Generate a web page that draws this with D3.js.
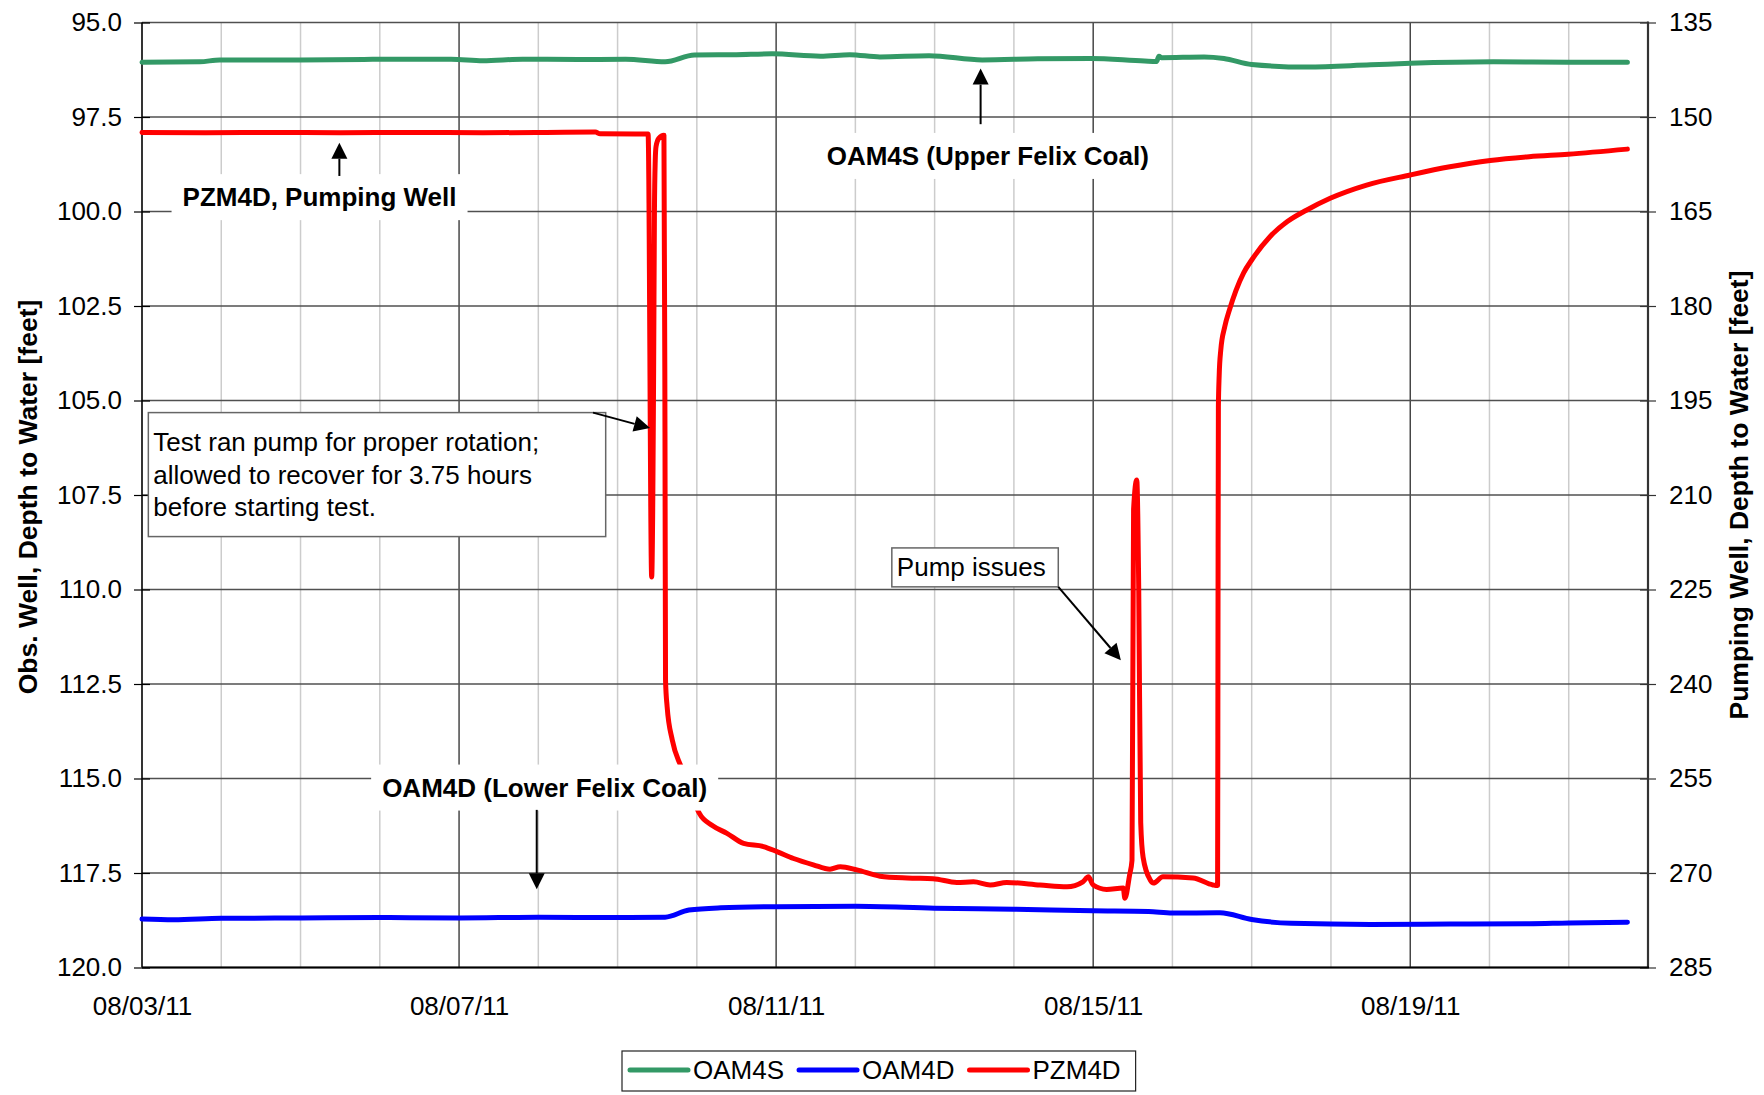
<!DOCTYPE html>
<html>
<head>
<meta charset="utf-8">
<script src="https://cdn.jsdelivr.net/npm/d3@7"></script>
<style>
  html, body { margin: 0; padding: 0; background: #fff; }
  svg { display: block; font-family: "Liberation Sans", Arial, sans-serif; }
</style>
</head>
<body>
<script>
// Pumping test, August 2011: depth to water in two observation wells (left axis)
// and in the pumping well (right axis). Times are days after 08/03/11 00:00.

const seriesNames = ["OAM4S", "OAM4D", "PZM4D"];
const seriesColors = ["#339966", "#0000ff", "#ff0000"];

// OAM4S (Upper Felix Coal), feet below reference, left axis
const oam4s = [
  [0, 96.05], [0.73, 96.04], [0.98, 95.99], [2.0, 95.99], [2.8, 95.98], [3.06, 95.97],
  [3.9, 95.97], [4.3, 96.01], [4.8, 95.97], [5.5, 95.98], [6.1, 95.97], [6.6, 96.04],
  [6.97, 95.86], [7.5, 95.85], [7.95, 95.83], [8.56, 95.89], [8.93, 95.85], [9.31, 95.91],
  [9.93, 95.88], [10.6, 95.99], [11.3, 95.96], [11.97, 95.95], [12.65, 96.02], [12.8, 96.03],
  [12.83, 95.89], [12.86, 95.93], [13.4, 95.91], [13.65, 95.95], [14.0, 96.11], [14.7, 96.18],
  [15.5, 96.12], [16.0, 96.08], [17.05, 96.04], [18.0, 96.05], [18.74, 96.05]
];

// OAM4D (Lower Felix Coal), left axis
const oam4d = [
  [0, 118.72], [0.4, 118.74], [1.0, 118.70], [2.0, 118.69], [3.0, 118.68], [4.0, 118.69],
  [5.0, 118.67], [6.0, 118.68], [6.6, 118.67], [6.9, 118.48], [7.3, 118.42], [8.0, 118.39],
  [9.0, 118.38], [10.0, 118.43], [11.0, 118.46], [12.0, 118.50], [12.7, 118.52], [13.0, 118.56],
  [13.6, 118.55], [14.0, 118.73], [14.5, 118.83], [15.5, 118.86], [16.5, 118.85], [17.5, 118.84],
  [18.0, 118.82], [18.74, 118.80]
];

// PZM4D, pumping well, right axis
const pzm4d = [
  [0, 152.45], [0.8, 152.5], [1.6, 152.45], [2.5, 152.5], [3.4, 152.45], [4.3, 152.5],
  [5.1, 152.45], [5.72, 152.4], [5.78, 152.65], [6.385, 152.7],
  [6.43, 223.0], [6.455, 190], [6.465, 165], [6.475, 157], [6.485, 154.7], [6.52, 153.4],
  [6.585, 152.9], [6.598, 200], [6.605, 239.4], [6.625, 243.6], [6.69, 248.9], [6.80, 253.1],
  [6.92, 257.0], [7.03, 260.5], [7.2, 262.5], [7.38, 263.7], [7.59, 265.3], [7.84, 265.8],
  [8.01, 266.6], [8.22, 267.7], [8.47, 268.7], [8.68, 269.4], [8.81, 269.0], [9.02, 269.5],
  [9.31, 270.5], [9.65, 270.8], [9.98, 270.9], [10.28, 271.5], [10.49, 271.4], [10.70, 271.9],
  [10.91, 271.5], [11.33, 271.9], [11.67, 272.2], [11.87, 271.4], [11.94, 270.6], [12.00, 271.9],
  [12.17, 272.6], [12.38, 272.4], [12.40, 274.0], [12.46, 270.3], [12.49, 268.0], [12.51, 212.3],
  [12.55, 207.6], [12.575, 225.0], [12.60, 262.0], [12.63, 267.5], [12.72, 271.1], [12.76, 271.6],
  [12.88, 270.6], [13.26, 270.8], [13.51, 271.9], [13.57, 272.0], [13.575, 230.0], [13.58, 196.0],
  [13.59, 191.0], [13.61, 187.0], [13.66, 183.3], [13.72, 180.6], [13.80, 177.6], [13.90, 174.7],
  [14.00, 172.7], [14.23, 169.0], [14.45, 166.6], [14.69, 164.8], [14.99, 162.9], [15.45, 160.8],
  [16.00, 159.2], [16.5, 157.9], [17.01, 156.9], [17.5, 156.3], [17.99, 155.9], [18.74, 155.1]
];

const leftTicks = [95, 97.5, 100, 102.5, 105, 107.5, 110, 112.5, 115, 117.5, 120];
const rightTicks = [135, 150, 165, 180, 195, 210, 225, 240, 255, 270, 285];
const dateTicks = ["2011-08-03", "2011-08-07", "2011-08-11", "2011-08-15", "2011-08-19"];
const dateStart = "2011-08-03";
const dateEnd = "2011-08-22";

const leftTitle = "Obs. Well, Depth to Water [feet]";
const rightTitle = "Pumping Well, Depth to Water [feet]";

// Bold well labels placed in day / left-axis units
const wellLabels = [
  { text: "PZM4D, Pumping Well", day: 2.24, depth: 99.62 },
  { text: "OAM4S (Upper Felix Coal)", day: 10.67, depth: 98.53 },
  { text: "OAM4D (Lower Felix Coal)", day: 5.08, depth: 115.24 }
];
// Pointer arrows, [day, depth] from -> to
const pointers = [
  { from: [2.49, 99.06], to: [2.49, 98.18] },
  { from: [10.58, 97.69], to: [10.58, 96.22] },
  { from: [4.98, 115.83], to: [4.98, 117.93] },
  { from: [5.69, 105.32], to: [6.41, 105.73] },
  { from: [11.56, 109.93], to: [12.35, 111.87] }
];
// Boxed notes: corners in day / left-axis units
const notes = [
  { lines: ["Test ran pump for proper rotation;", "allowed to recover for 3.75 hours", "before starting test."],
    d0: 0.08, v0: 105.32, d1: 5.85, v1: 108.6 },
  { lines: ["Pump issues"], d0: 9.46, v0: 108.9, d1: 11.56, v1: 109.93 }
];

const W = 1764, H = 1095;
const L = 142, R = 1648, T = 22.5, B = 967.5;
const FONT = 26;
const LINE_H = 32.5;

const parse = d3.timeParse("%Y-%m-%d");
const t0 = parse(dateStart), t1 = parse(dateEnd);
const toDate = d => new Date(t0.getTime() + d * 864e5);

const x = d3.scaleTime().domain([t0, t1]).range([L, R]);
const yL = d3.scaleLinear().domain([95, 120]).range([T, B]);
const yR = d3.scaleLinear().domain([135, 285]).range([T, B]);

const svg = d3.select("body").append("svg").attr("width", W).attr("height", H);
svg.append("rect").attr("width", W).attr("height", H).attr("fill", "#fff");

// Gridlines: minor daily, major every four days, horizontal at each left tick
const days = d3.timeDay.range(d3.timeDay.offset(t0, 1), t1);
const major = dateTicks.map(parse).filter(d => +d !== +t0);
const isMajor = d => major.some(m => +m === +d);

const grid = svg.append("g");
grid.selectAll("line.minor").data(days.filter(d => !isMajor(d))).join("line")
  .attr("x1", d => x(d)).attr("x2", d => x(d)).attr("y1", T).attr("y2", B)
  .attr("stroke", "#cccccc").attr("stroke-width", 1.5);
grid.selectAll("line.major").data(major).join("line")
  .attr("x1", d => x(d)).attr("x2", d => x(d)).attr("y1", T).attr("y2", B)
  .attr("stroke", "#1a1a1a").attr("stroke-width", 1.2);
grid.selectAll("line.h").data(leftTicks).join("line")
  .attr("x1", L).attr("x2", R).attr("y1", d => yL(d)).attr("y2", d => yL(d))
  .attr("stroke", "#505050").attr("stroke-width", 1.4);

// Axes
const axL = svg.append("g").attr("transform", `translate(${L + 8},0)`)
  .call(d3.axisLeft(yL).tickValues(leftTicks).tickSize(16).tickPadding(12).tickFormat(d3.format(".1f")));
axL.select(".domain").remove();
axL.selectAll("line").attr("stroke", "#000").attr("stroke-width", 1.2);
svg.append("line").attr("x1", L).attr("x2", L).attr("y1", T).attr("y2", B)
  .attr("stroke", "#000").attr("stroke-width", 1.6);

const axR = svg.append("g").attr("transform", `translate(${R - 8},0)`)
  .call(d3.axisRight(yR).tickValues(rightTicks).tickSize(16).tickPadding(13).tickFormat(d3.format("d")));
axR.select(".domain").remove();
axR.selectAll("line").attr("stroke", "#333").attr("stroke-width", 1.2);
svg.append("line").attr("x1", R).attr("x2", R).attr("y1", T - 1).attr("y2", B)
  .attr("stroke", "#333").attr("stroke-width", 2.2);

const axB = svg.append("g").attr("transform", `translate(0,${B})`)
  .call(d3.axisBottom(x).tickValues(dateTicks.map(parse)).tickSize(0).tickPadding(29)
    .tickFormat(d3.timeFormat("%m/%d/%y")));
axB.select(".domain").remove();
svg.append("line").attr("x1", L).attr("x2", R + 1).attr("y1", B).attr("y2", B)
  .attr("stroke", "#000").attr("stroke-width", 2);

[axL, axR, axB].forEach(g => g.selectAll("text")
  .attr("font-size", FONT).attr("fill", "#000").attr("font-family", "'Liberation Sans', Arial, sans-serif"));

// Axis titles
svg.append("text").attr("transform", `translate(28,497) rotate(-90)`)
  .attr("text-anchor", "middle").attr("dy", "0.35em")
  .attr("font-size", 26.5).attr("font-weight", "bold").text(leftTitle);
svg.append("text").attr("transform", `translate(1739,495) rotate(-90)`)
  .attr("text-anchor", "middle").attr("dy", "0.35em")
  .attr("font-size", 26.5).attr("font-weight", "bold").text(rightTitle);

// Series lines
const lineL = d3.line().x(d => x(toDate(d[0]))).y(d => yL(d[1])).curve(d3.curveMonotoneX);
const lineR = d3.line().x(d => x(toDate(d[0]))).y(d => yR(d[1])).curve(d3.curveMonotoneX);
const plot = svg.append("g").attr("fill", "none").attr("stroke-width", 5)
  .attr("stroke-linejoin", "round").attr("stroke-linecap", "round");
plot.append("path").attr("d", lineL(oam4s)).attr("stroke", seriesColors[0]);
plot.append("path").attr("d", lineL(oam4d)).attr("stroke", seriesColors[1]);
plot.append("path").attr("d", lineR(pzm4d)).attr("stroke", seriesColors[2]);

// Well labels on white backing
wellLabels.forEach(l => {
  const g = svg.append("g");
  const t = g.append("text").attr("x", x(toDate(l.day))).attr("y", yL(l.depth))
    .attr("dy", "0.35em").attr("text-anchor", "middle")
    .attr("font-size", FONT).attr("font-weight", "bold").text(l.text);
  const bb = t.node().getBBox();
  g.insert("rect", "text").attr("x", bb.x - 11).attr("y", yL(l.depth) - 23)
    .attr("width", bb.width + 22).attr("height", 46).attr("fill", "#fff");
});

// Boxed notes
notes.forEach(n => {
  const x0 = x(toDate(n.d0)), x1 = x(toDate(n.d1));
  const y0 = yL(n.v0), y1 = yL(n.v1);
  svg.append("rect").attr("x", x0).attr("y", y0).attr("width", x1 - x0).attr("height", y1 - y0)
    .attr("fill", "#fff").attr("stroke", "#666").attr("stroke-width", 1.5);
  const firstY = (y0 + y1) / 2 - LINE_H * (n.lines.length - 1) / 2;
  n.lines.forEach((s, i) => {
    svg.append("text").attr("x", x0 + 5).attr("y", firstY + LINE_H * i)
      .attr("dy", "0.35em").attr("font-size", FONT).text(s);
  });
});

// Arrows
pointers.forEach(p => {
  const ax = x(toDate(p.from[0])), ay = yL(p.from[1]);
  const bx = x(toDate(p.to[0])), by = yL(p.to[1]);
  const ang = Math.atan2(by - ay, bx - ax);
  const len = 16, hw = 8;
  const px = bx - len * Math.cos(ang), py = by - len * Math.sin(ang);
  svg.append("line").attr("x1", ax).attr("y1", ay).attr("x2", px).attr("y2", py)
    .attr("stroke", "#000").attr("stroke-width", 2);
  const nx = -Math.sin(ang) * hw, ny = Math.cos(ang) * hw;
  svg.append("path").attr("d", `M${bx},${by}L${px + nx},${py + ny}L${px - nx},${py - ny}Z`)
    .attr("fill", "#000");
});

// Legend
const leg = svg.append("g");
const legBox = leg.append("rect").attr("fill", "#fff").attr("stroke", "#222").attr("stroke-width", 1.2);
let cx = 630;
const legY = 1070;
seriesNames.forEach((name, i) => {
  leg.append("line").attr("x1", cx).attr("x2", cx + 58).attr("y1", legY).attr("y2", legY)
    .attr("stroke", seriesColors[i]).attr("stroke-width", 5).attr("stroke-linecap", "round");
  const t = leg.append("text").attr("x", cx + 63).attr("y", legY).attr("dy", "0.35em")
    .attr("font-size", FONT).text(name);
  cx += 63 + t.node().getComputedTextLength() + 15;
});
legBox.attr("x", 622).attr("y", 1051).attr("width", cx - 622).attr("height", 40);
</script>
</body>
</html>
